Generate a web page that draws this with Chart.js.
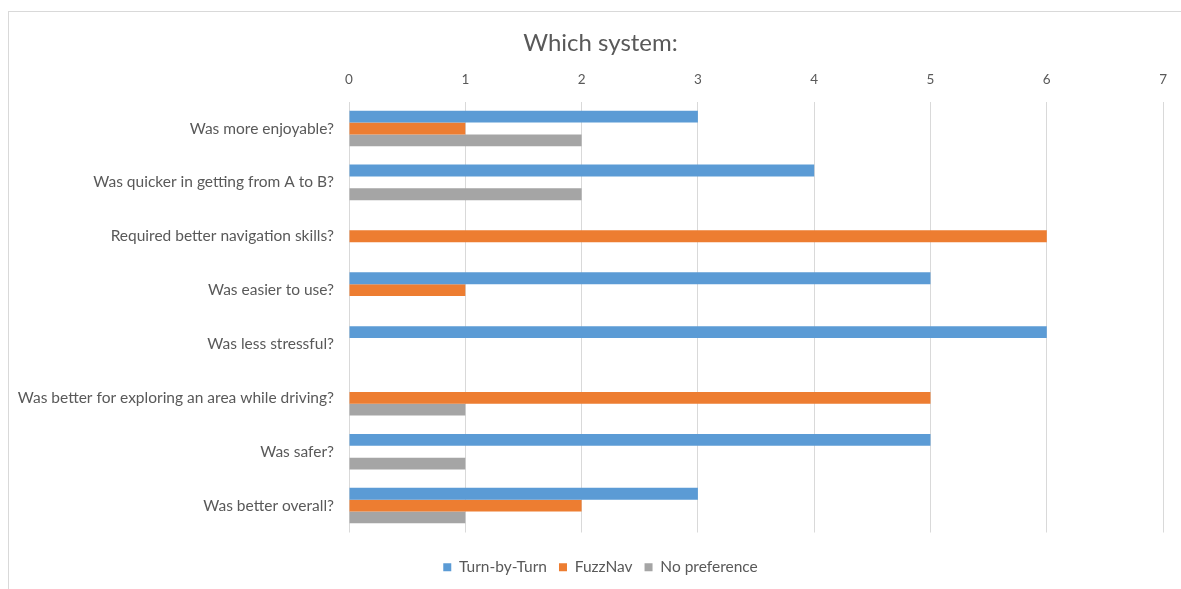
<!DOCTYPE html>
<html>
<head>
<meta charset="utf-8">
<script src="https://cdn.jsdelivr.net/npm/chart.js@4.4.1/dist/chart.umd.min.js"></script>
<style>
html,body{margin:0;padding:0;background:#fff;overflow:hidden;}
#wrap{position:relative;width:1181px;height:589px;}
#frame{position:absolute;left:8px;top:11px;width:1300px;height:700px;border:1px solid #d9d9d9;pointer-events:none;}
canvas{position:absolute;left:0;top:0;}
</style>
</head>
<body>
<div id="wrap">
<div id="frame"></div>
<canvas id="c" width="1181" height="589"></canvas>
</div>
<script>
const categories = [
  "Was more enjoyable?",
  "Was quicker in getting from A to B?",
  "Required better navigation skills?",
  "Was easier to use?",
  "Was less stressful?",
  "Was better for exploring an area while driving?",
  "Was safer?",
  "Was better overall?"
];
const turnByTurn   = [3, 4, 0, 5, 6, 0, 5, 3];
const fuzzNav      = [1, 0, 6, 1, 0, 5, 0, 2];
const noPreference = [2, 2, 0, 0, 0, 1, 1, 1];
const seriesNames = ["Turn-by-Turn", "FuzzNav", "No preference"];
const xTicks = [0, 1, 2, 3, 4, 5, 6, 7];

const FONT = "Lato, 'Liberation Sans', sans-serif";
const TXT = "#595959";

new Chart(document.getElementById('c'), {
  type: 'bar',
  data: {
    labels: categories,
    datasets: [
      {label: seriesNames[0], data: turnByTurn, backgroundColor: '#5B9BD5'},
      {label: seriesNames[1], data: fuzzNav, backgroundColor: '#ED7D31'},
      {label: seriesNames[2], data: noPreference, backgroundColor: '#A5A5A5'}
    ]
  },
  options: {
    indexAxis: 'y',
    responsive: false,
    animation: false,
    devicePixelRatio: 1,
    datasets: {bar: {categoryPercentage: 0.66, barPercentage: 1.0}},
    layout: {padding: {left: 36, right: 16, top: 10, bottom: 4}},
    scales: {
      x: {
        position: 'top',
        min: 0, max: 7,
        afterBuildTicks: s => { s.ticks = xTicks.map(v => ({value: v})); },
        ticks: {color: TXT, font: {family: FONT, size: 13.5}, padding: 14},
        grid: {color: '#d9d9d9', drawTicks: false, lineWidth: 1},
        border: {display: false}
      },
      xb: {
        type: 'linear',
        position: 'bottom',
        display: true,
        ticks: {display: false},
        grid: {display: false, drawTicks: false},
        border: {display: false},
        afterFit: s => { s.height = 15; }
      },
      y: {
        ticks: {color: TXT, font: {family: FONT, size: 15.5}, padding: 15},
        grid: {display: false, drawTicks: false},
        border: {display: false},
        afterFit: s => { s.width = 313; s._computeLabelArea = () => null; }
      }
    },
    plugins: {
      title: {
        display: true,
        text: 'Which system:',
        color: TXT,
        font: {family: FONT, size: 24, weight: 'normal'},
        padding: {top: 18.6, bottom: 0}
      },
      legend: {
        position: 'bottom',
        labels: {color: TXT, font: {family: FONT, size: 15.5}, boxWidth: 8, boxHeight: 8, padding: 12}
      },
      tooltip: {enabled: false}
    }
  }
});
</script>
</body>
</html>
